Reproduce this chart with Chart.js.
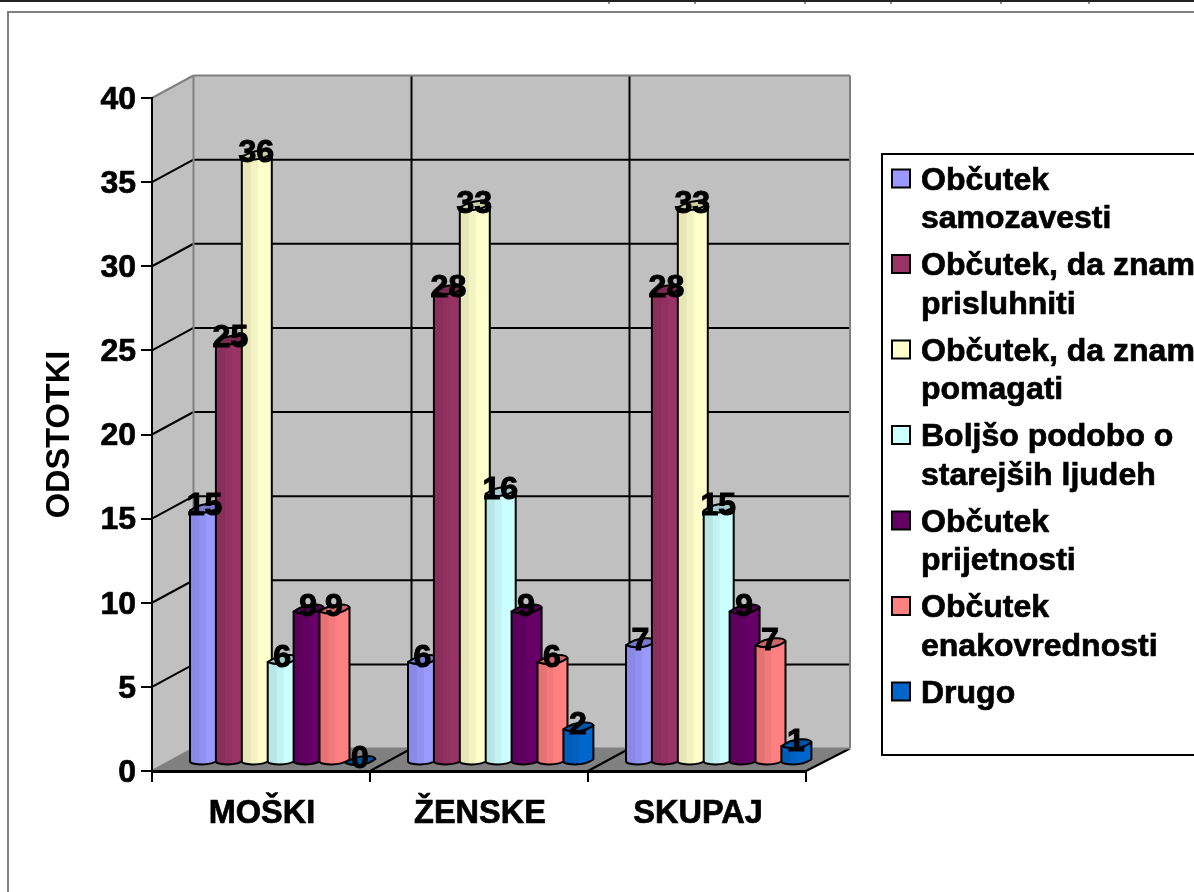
<!DOCTYPE html>
<html><head><meta charset="utf-8">
<style>html,body{margin:0;padding:0;background:#fff;overflow:hidden}canvas{display:block}</style>
<script src="https://cdn.jsdelivr.net/npm/chart.js@4"></script>
</head><body>
<div style="width:1194px;height:892px;position:relative"><canvas id="c" width="1194" height="892"></canvas></div>
<script>
const categories = ['MOŠKI', 'ŽENSKE', 'SKUPAJ'];
const yTicks = [0, 5, 10, 15, 20, 25, 30, 35, 40];
const samozavest = [15, 6, 7];
const prisluhniti = [25, 28, 28];
const pomagati = [36, 33, 33];
const podoba = [6, 16, 15];
const prijetnost = [9, 9, 9];
const enakovrednost = [9, 6, 7];
const drugo = [0, 2, 1];
const seriesLines = [
  ['Občutek', 'samozavesti'],
  ['Občutek, da znam', 'prisluhniti'],
  ['Občutek, da znam', 'pomagati'],
  ['Boljšo podobo o', 'starejših ljudeh'],
  ['Občutek', 'prijetnosti'],
  ['Občutek', 'enakovrednosti'],
  ['Drugo']
];
const seriesValues = [samozavest, prisluhniti, pomagati, podoba, prijetnost, enakovrednost, drugo];
const seriesColors = ['#9999FF', '#993366', '#FFFFCC', '#CCFFFF', '#660066', '#FF8080', '#0066CC'];
const FONT = '"Liberation Sans", Arial, sans-serif';
const WALL_DX = 41.5, WALL_DY = -22.5, BAR_DX = 21.7, BAR_DY = -8;
const topTicks = [609, 695, 805, 891, 1001, 1089];

function shade(hex, f) {
  const n = parseInt(hex.slice(1), 16);
  const c = s => Math.round(((n >> s) & 255) * f);
  return `rgb(${c(16)},${c(8)},${c(0)})`;
}
function line(ctx, x1, y1, x2, y2) { ctx.beginPath(); ctx.moveTo(x1, y1); ctx.lineTo(x2, y2); ctx.stroke(); }
function poly(ctx, pts, fill) {
  ctx.beginPath(); pts.forEach((p, i) => i ? ctx.lineTo(p[0], p[1]) : ctx.moveTo(p[0], p[1])); ctx.closePath();
  ctx.fillStyle = fill; ctx.fill();
}

const walls3d = {
  id: 'walls3d',
  beforeDraw(chart) {
    const ctx = chart.ctx, a = chart.chartArea, ys = chart.scales.y, xs = chart.scales.x;
    ctx.save();
    // page frame lines
    ctx.strokeStyle = '#222'; ctx.lineWidth = 2; line(ctx, 0, 1, 1194, 1);
    ctx.lineWidth = 1; topTicks.forEach(x => line(ctx, x, 0, x, 4));
    ctx.strokeStyle = '#808080'; ctx.lineWidth = 2;
    ctx.beginPath(); ctx.moveTo(8, 892); ctx.lineTo(8, 12); ctx.lineTo(1194, 12); ctx.stroke();
    const bl = a.left + WALL_DX, br = a.right + WALL_DX + 2.5, bb = a.bottom + WALL_DY, bt = a.top + WALL_DY;
    poly(ctx, [[a.left, a.top], [bl, bt], [bl, bb], [a.left, a.bottom]], '#C0C0C0');
    poly(ctx, [[bl, bt], [br, bt], [br, bb], [bl, bb]], '#C0C0C0');
    poly(ctx, [[a.left, a.bottom], [a.right, a.bottom], [br, bb], [bl, bb]], '#808080');
    // gridlines
    ctx.strokeStyle = '#000'; ctx.lineWidth = 2;
    yTicks.forEach(v => {
      if (v === 0 || v === 40) return;
      const y = ys.getPixelForValue(v);
      line(ctx, a.left, y, bl, y + WALL_DY);
      line(ctx, bl, y + WALL_DY, br, y + WALL_DY);
    });
    for (let i = 1; i < categories.length; i++) {
      const x = (xs.getPixelForValue(i - 1) + xs.getPixelForValue(i)) / 2;
      line(ctx, x, a.bottom, x + WALL_DX, bb);
      line(ctx, x + WALL_DX, bb, x + WALL_DX, bt);
    }
    line(ctx, a.right, a.bottom, br, bb);
    // wall edges
    ctx.strokeStyle = '#808080'; ctx.lineWidth = 2;
    line(ctx, a.left, a.top, bl, bt); line(ctx, bl, bt, br, bt); line(ctx, br, bt, br, bb); line(ctx, bl, bt, bl, bb);
    line(ctx, bl, bb, br, bb); line(ctx, a.left, a.bottom, bl, bb);
    ctx.restore();
  },
  beforeDatasetDraw() { return false; },
  afterDatasetsDraw(chart) {
    const ctx = chart.ctx;
    const metas = chart.data.datasets.map((_, i) => chart.getDatasetMeta(i));
    ctx.save();
    metas.forEach((meta, di) => meta.data.forEach(el => drawBar(ctx, el, seriesColors[di])));
    // labels
    ctx.fillStyle = '#000'; ctx.strokeStyle = '#000'; ctx.lineWidth = 1.1;
    ctx.font = `bold 32px ${FONT}`; ctx.textAlign = 'center'; ctx.textBaseline = 'middle';
    metas.forEach((meta, di) => meta.data.forEach((el, ci) => {
      const t = String(seriesValues[di][ci]);
      const x = el.x + BAR_DX - 0.5, y = el.y + BAR_DY - 4;
      ctx.fillText(t, x, y); ctx.strokeText(t, x, y);
    }));
    ctx.restore();
    drawLegend(ctx);
  }
};

function drawBar(ctx, el, color) {
  const p = el.getProps(['x', 'y', 'base', 'width'], true);
  const w = p.width, x = p.x - w / 2 + BAR_DX, y = p.y + BAR_DY, b = p.base + BAR_DY;
  const outline = () => {
    ctx.beginPath();
    ctx.moveTo(x, y); ctx.lineTo(x, b - 1);
    ctx.quadraticCurveTo(x, b + 1, x + 3, b + 1.5);
    ctx.bezierCurveTo(x + .4 * w, b + 3.5, x + .7 * w, b + 3, x + w, b - 2.5);
    ctx.lineTo(x + w, y - 4);
    ctx.closePath();
  };
  ctx.save();
  if (b > y) {
    outline(); ctx.clip();
    ctx.fillStyle = color; ctx.fillRect(x, y - 12, w, b - y + 20);
    ctx.fillStyle = shade(color, .95); ctx.fillRect(x, y - 12, .53 * w, b - y + 20);
    ctx.fillStyle = shade(color, .9); ctx.fillRect(x, y - 12, .3 * w, b - y + 20);
    ctx.restore(); ctx.save();
  }
  ctx.strokeStyle = '#000'; ctx.lineWidth = 2; ctx.lineJoin = 'round';
  if (b > y) { outline(); ctx.stroke(); }
  ctx.beginPath();
  ctx.moveTo(x, y);
  ctx.bezierCurveTo(x + .3 * w, y + 3.5, x + .7 * w, y + 3, x + w, y - 4);
  ctx.bezierCurveTo(x + .95 * w, y - 8, x + .4 * w, y - 9, x, y);
  ctx.closePath();
  ctx.fillStyle = shade(color, .8); ctx.fill(); ctx.stroke();
  ctx.restore();
}

function drawLegend(ctx) {
  ctx.save();
  ctx.fillStyle = '#fff'; ctx.strokeStyle = '#000'; ctx.lineWidth = 2;
  ctx.fillRect(882, 154, 320, 601); ctx.strokeRect(882, 154, 320, 601);
  ctx.font = `bold 32px ${FONT}`; ctx.textAlign = 'left'; ctx.textBaseline = 'middle';
  seriesLines.forEach((lines, i) => {
    const y0 = 179 + i * 85.5;
    ctx.fillStyle = seriesColors[i]; ctx.fillRect(892, y0 - 9.5, 18, 18);
    ctx.strokeStyle = '#000'; ctx.lineWidth = 2; ctx.strokeRect(892, y0 - 9.5, 18, 18);
    ctx.fillStyle = '#000'; ctx.lineWidth = 0.7;
    lines.forEach((t, k) => { const ty = y0 + 2 + k * 38.5; ctx.fillText(t, 921, ty); ctx.strokeText(t, 921, ty); });
  });
  ctx.restore();
}

new Chart(document.getElementById('c'), {
  type: 'bar',
  data: {
    labels: categories,
    datasets: seriesValues.map((data, i) => ({
      label: seriesLines[i].join(' '), data,
      backgroundColor: seriesColors[i],
      categoryPercentage: 0.8316, barPercentage: 1.158
    }))
  },
  options: {
    responsive: false, animation: false,
    layout: { padding: { top: 98, right: 388, left: 0, bottom: 0 } },
    plugins: { legend: { display: false }, tooltip: { enabled: false } },
    scales: {
      x: {
        afterFit(s) { s.height = 121; },
        grid: { drawOnChartArea: false, color: '#000', lineWidth: 2, tickLength: 11 },
        border: { color: '#000', width: 3 },
        ticks: { color: '#000', font: { family: FONT, size: 32.5, weight: 'bold' }, padding: 13, maxRotation: 0, labelOffset: 1, textStrokeColor: '#000', textStrokeWidth: 0.7 }
      },
      y: {
        min: 0, max: 40,
        afterFit(s) { s.width = 152; },
        afterBuildTicks(s) { s.ticks = yTicks.map(value => ({ value })); },
        grid: { drawOnChartArea: false, color: '#000', lineWidth: 2, tickLength: 11 },
        border: { color: '#000', width: 2 },
        ticks: { color: '#000', font: { family: FONT, size: 32, weight: 'bold' }, padding: 5, labelOffset: 2, textStrokeColor: '#000', textStrokeWidth: 0.7 },
        title: { display: true, text: 'ODSTOTKI', color: '#000', font: { family: FONT, size: 32.5, weight: 'bold' }, padding: { top: 41, bottom: 0 } }
      }
    }
  },
  plugins: [walls3d]
});
</script>
</body></html>
